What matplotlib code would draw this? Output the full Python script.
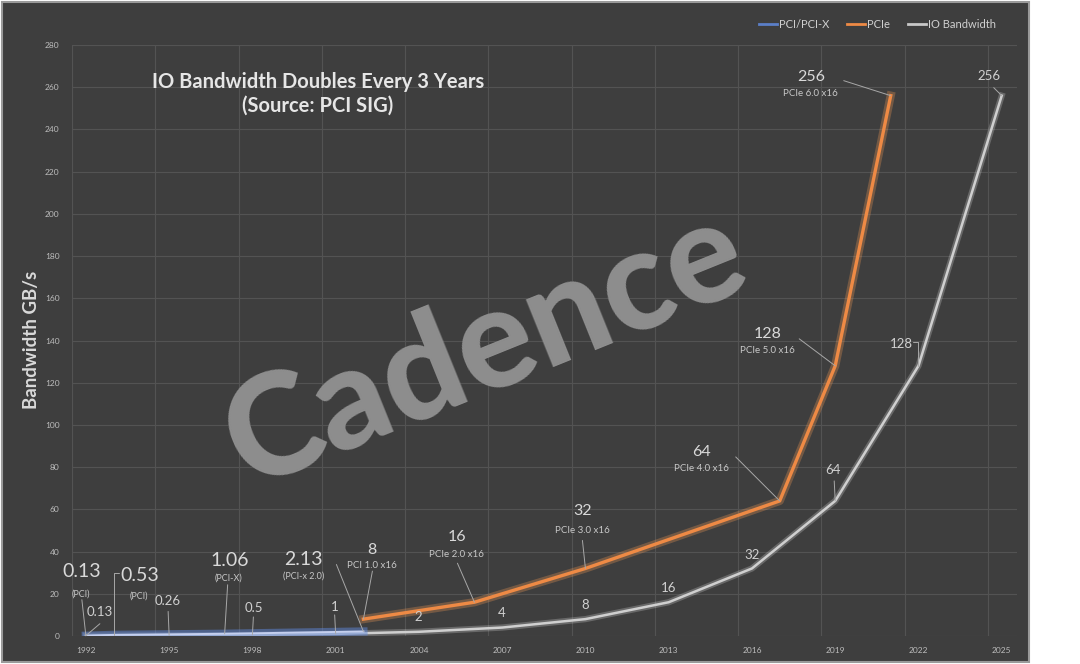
import matplotlib.pyplot as plt
import matplotlib.patheffects as pe
from matplotlib.patches import Rectangle
from matplotlib.lines import Line2D
import numpy as np

plt.rcParams.update({
    'font.family': ['Lato', 'DejaVu Sans'],
    'font.size': 8,
})

# data
pci_years = [1992, 1993, 1997, 2002]
pci_vals = [0.13, 0.53, 1.06, 2.13]
pci_text = ['0.13', '0.53', '1.06', '2.13']
pci_names = ['(PCI)', '(PCI)', '(PCI-X)', '(PCI-x 2.0)']

pcie_years = [2002, 2006, 2010, 2017, 2019, 2021]
pcie_vals = [8, 16, 32, 64, 128, 256]
pcie_text = ['8', '16', '32', '64', '128', '256']
pcie_names = ['PCI 1.0 x16', 'PCIe 2.0 x16', 'PCIe 3.0 x16',
              'PCIe 4.0 x16', 'PCIe 5.0 x16', 'PCIe 6.0 x16']

io_years = [1992, 1995, 1998, 2001, 2004, 2007, 2010, 2013, 2016, 2019, 2022, 2025]
io_vals = [0.13, 0.26, 0.5, 1, 2, 4, 8, 16, 32, 64, 128, 256]
io_text = ['0.13', '0.26', '0.5', '1', '2', '4', '8', '16', '32', '64', '128', '256']

year_ticks = list(range(1992, 2026, 3))
bw_ticks = list(range(0, 281, 20))

# label placement (pixel offsets from the point): value, name, leader start, elbow?
pci_off = [((-4, 64), (-5, 42), (-4, 36), False),
           ((26, 59), (25, 39), (5, 62), True),
           ((5, 73), (4, 56), (3, 49), False),
           ((-60, 72), (-60, 55), (-27, 67), False)]
pcie_off = [((8, 69), (8, 54), (9, 48), False),
            ((-17, 65), (-18, 48), (-17, 39), False),
            ((-3, 57), (-3, 38), (-3, 28), False),
            ((-78, 49), (-78, 32), (-44, 44), False),
            ((-68, 32), (-68, 15), (-36, 27), False),
            ((-80, 19), (-80, 2), (-47, 15), False)]
io_off = [((14, 24), (14, 12), False), ((-1, 34), (-1, 24), False),
          ((1, 27), (1, 18), False), ((-1, 27), (-1, 19), False),
          ((-1, 15), None, False), ((0, 15), None, False),
          ((0, 14), None, False), ((0, 14), None, False),
          ((0, 13), None, False), ((-2, 31), (-1, 20), False),
          ((-17, 22), (-5, 24), True), ((-13, 20), (-8, 8), False)]

BG = '#3e3e3e'
GRID = '#535353'
TXT = '#d9d9d9'
LEAD = '#a8a8a8'
BLUE = '#5f86d8'
ORANGE = '#ee8a45'
GRAY = '#cfcfcf'

fig = plt.figure(figsize=(10.8, 6.64), dpi=100, facecolor='white')
fig.patches.append(Rectangle((2 / 1080, 2 / 664), 1027 / 1080, 660 / 664,
                             transform=fig.transFigure, facecolor=BG,
                             edgecolor='#9a9a9a', lw=1.5, zorder=-10))
ax = fig.add_axes([72 / 1080, 28 / 664, 945 / 1080, 591 / 664])
ax.set_facecolor('none')

ax.set_xlim(1991.5, 2025.55)
ax.set_ylim(0, 280)
ax.set_xticks(year_ticks)
ax.set_xticks(np.arange(1991.5, 2026, 3), minor=True)
ax.set_yticks(bw_ticks)
ax.tick_params(which='both', length=0, colors='#bdbdbd', labelsize=6)
ax.tick_params(axis='x', pad=8)
ax.tick_params(axis='y', pad=9)
for s in ax.spines.values():
    s.set_visible(False)
ax.grid(True, axis='y', which='major', color=GRID, lw=0.8)
ax.grid(True, axis='x', which='minor', color=GRID, lw=0.8)
ax.set_axisbelow(True)

# watermark
ax.text(0.437, 0.485, 'Cadence', transform=ax.transAxes, fontsize=102,
        fontweight='black', color='#8e8e8e', rotation=22, ha='center',
        va='center', zorder=1)


def glow(c, w, a=0.3):
    return [pe.Stroke(linewidth=w, foreground=c, alpha=a), pe.Normal()]


ax.plot(io_years, io_vals, color=GRAY, lw=1.8, zorder=3, path_effects=glow('#e8e8e8', 4.5, 0.25))
ax.plot(pci_years, pci_vals, color='#c4cfee', lw=1.4, zorder=4, path_effects=glow(BLUE, 6, 0.5))
ax.plot(pcie_years, pcie_vals, color=ORANGE, lw=2.4, zorder=4, path_effects=glow('#f39a55', 6))


def leader(x, y, start, elbow):
    cs = 'angle,angleA=0,angleB=90,rad=0' if elbow else 'arc3'
    ax.annotate('', (x, y), xytext=start, textcoords='offset pixels',
                arrowprops=dict(arrowstyle='-', color=LEAD, lw=0.7,
                                shrinkA=0, shrinkB=0, connectionstyle=cs), zorder=5)


def label(x, y, txt, off, size, color=TXT):
    ax.annotate(txt, (x, y), xytext=off, textcoords='offset pixels',
                ha='center', va='center', fontsize=size, color=color, zorder=6)


for x, y, t, n, (o1, o2, o3, el) in zip(pci_years, pci_vals, pci_text, pci_names, pci_off):
    leader(x, y, o3, el)
    label(x, y, t, o1, 14)
    label(x, y, n, o2, 6.5, '#c8c8c8')

for x, y, t, n, (o1, o2, o3, el) in zip(pcie_years, pcie_vals, pcie_text, pcie_names, pcie_off):
    leader(x, y, o3, el)
    label(x, y, t, o1, 11.5)
    label(x, y, n, o2, 7, '#c8c8c8')

for x, y, t, (o1, o2, el) in zip(io_years, io_vals, io_text, io_off):
    if o2 is not None:
        leader(x, y, o2, el)
    label(x, y, t, o1, 9.5, '#d0d0d0')

# title
fig.text(318 / 1080, 1 - 82 / 664, 'IO Bandwidth Doubles Every 3 Years',
         ha='center', va='center', fontsize=14.5, fontweight='bold', color='#e6e6e6')
fig.text(318 / 1080, 1 - 106 / 664, '(Source: PCI SIG)',
         ha='center', va='center', fontsize=14.5, fontweight='bold', color='#e6e6e6')

fig.text(31 / 1080, 1 - 340 / 664, 'Bandwidth GB/s', rotation=90, ha='center',
         va='center', fontsize=13.5, fontweight='bold', color=TXT)

handles = [Line2D([], [], color='#5b7fc8', lw=2),
           Line2D([], [], color=ORANGE, lw=2),
           Line2D([], [], color='#c8c8c8', lw=2)]
fig.legend(handles, ['PCI/PCI-X', 'PCIe', 'IO Bandwidth'], ncol=3,
           loc='center right', bbox_to_anchor=(1006 / 1080, 1 - 24 / 664),
           frameon=False, fontsize=8, labelcolor='#d0d0d0', handlelength=1.6,
           handletextpad=0.2, columnspacing=1.6)

fig.savefig('out.png', dpi=100, facecolor='white')
